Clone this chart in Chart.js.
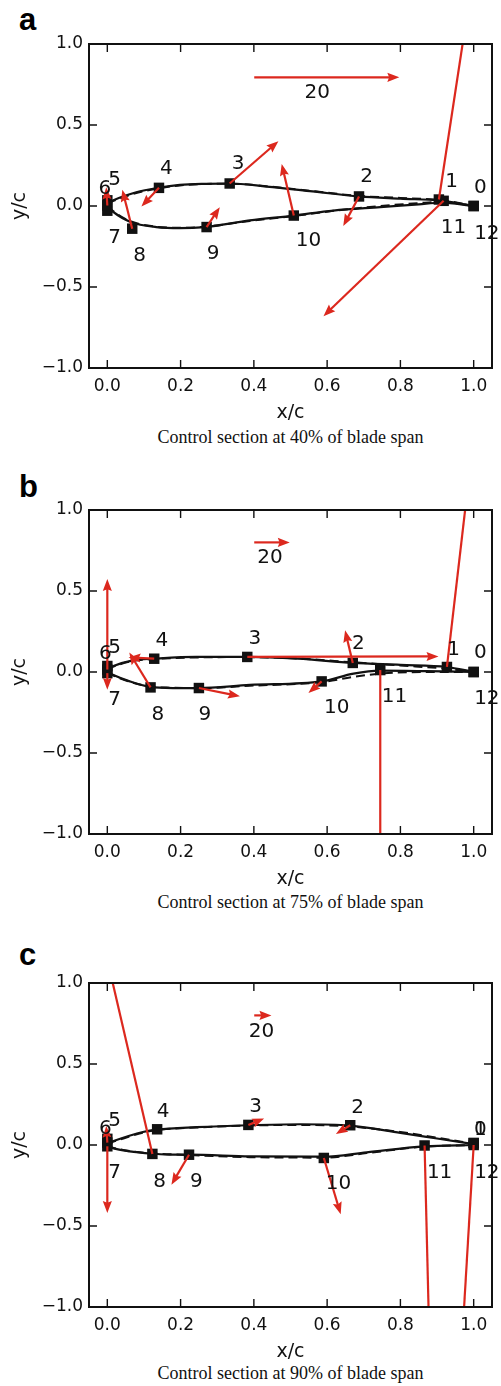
<!DOCTYPE html>
<html>
<head>
<meta charset="utf-8">
<script src="https://cdn.jsdelivr.net/npm/chart.js@4.4.0/dist/chart.umd.min.js"></script>
<style>
  body { margin: 0; background: #fff; }
  #page { position: relative; width: 501px; height: 1386px; overflow: hidden; }
  .panel { position: absolute; left: 0; }
  .letter { position: absolute; left: 19px; font: bold 31px "Liberation Sans", Arial, sans-serif; line-height: 31px; color: #000; }
  .caption { position: absolute; left: 89px; width: 403px; text-align: center; font: 18px "Liberation Serif", "Times New Roman", serif; line-height: 18px; color: #111; white-space: nowrap; }
</style>
</head>
<body>
<div id="page">
  <div class="letter" style="top:4px">a</div>
  <canvas id="chartA" class="panel" width="501" height="424" style="top:0px"></canvas>
  <div class="caption" style="top:428px">Control section at 40% of blade span</div>

  <div class="letter" style="top:471px">b</div>
  <canvas id="chartB" class="panel" width="501" height="424" style="top:466px"></canvas>
  <div class="caption" style="top:893px">Control section at 75% of blade span</div>

  <div class="letter" style="top:939px">c</div>
  <canvas id="chartC" class="panel" width="501" height="424" style="top:939px"></canvas>
  <div class="caption" style="top:1364px">Control section at 90% of blade span</div>
</div>
<script>
// === Axes ===
const xTicks = [0, 0.2, 0.4, 0.6, 0.8, 1.0];
const yTicks = [-1, -0.5, 0, 0.5, 1];
const RED = '#dc281e';
const INK = '#111';

// === Panel a: 40% span ===
// sensor index = label number 0..12
const aSensorX = [1.0, 0.905, 0.687, 0.334, 0.141, 0.0, 0.0, 0.0, 0.068, 0.271, 0.509, 0.918, 1.0];
const aSensorY = [0.0, 0.04, 0.059, 0.139, 0.112, 0.035, 0.003, -0.029, -0.14, -0.13, -0.059, 0.032, 0.0];
const aTipX = [null, 0.99, 0.644, 0.467, 0.093, null, -0.003, null, 0.041, 0.307, 0.476, 0.59, null];
const aTipY = [null, 1.3, -0.124, 0.40, -0.003, null, 0.115, null, 0.10, -0.007, 0.26, -0.68, null];
const aLabelX = [1.018, 0.94, 0.708, 0.357, 0.161, 0.02, -0.007, 0.02, 0.088, 0.289, 0.549, 0.945, 1.036];
const aLabelY = [0.112, 0.147, 0.178, 0.26, 0.229, 0.161, 0.106, -0.196, -0.305, -0.295, -0.213, -0.134, -0.171];
const aUpperX = [0.0, 0.015, 0.079, 0.138, 0.198, 0.27, 0.334, 0.435, 0.56, 0.687, 0.8, 0.91, 1.0];
const aUpperY = [0.015, 0.034, 0.085, 0.112, 0.13, 0.137, 0.139, 0.12, 0.09, 0.059, 0.045, 0.033, 0.0];
const aUpperDashY = [0.015, 0.03, 0.08, 0.108, 0.127, 0.136, 0.138, 0.122, 0.092, 0.062, 0.05, 0.036, 0.002];
const aLowerX = [0.0, 0.015, 0.065, 0.134, 0.198, 0.266, 0.389, 0.509, 0.617, 0.745, 0.85, 0.91, 1.0];
const aLowerY = [0.0, -0.035, -0.1, -0.13, -0.137, -0.13, -0.089, -0.059, -0.028, -0.007, 0.01, 0.02, 0.0];
const aLowerDashY = [0.0, -0.03, -0.096, -0.128, -0.134, -0.128, -0.092, -0.062, -0.03, 0.0, 0.018, 0.026, 0.0];
const aRefFrom = [0.401, 0.794];
const aRefTo = [0.797, 0.794];
const aRefLabel = [0.573, 0.70];

// === Panel b: 75% span ===
const bSensorX = [1.0, 0.927, 0.67, 0.382, 0.128, 0.0, 0.0, 0.0, 0.118, 0.25, 0.585, 0.745, 1.0];
const bSensorY = [0.0, 0.031, 0.056, 0.093, 0.082, 0.037, 0.015, -0.007, -0.095, -0.099, -0.058, 0.012, 0.0];
const bTipX = [null, 0.992, 0.649, 0.904, 0.058, null, 0.0, 0.0, 0.06, 0.362, 0.549, 0.745, null];
const bTipY = [null, 1.3, 0.257, 0.096, 0.09, null, 0.574, -0.109, 0.12, -0.15, -0.13, -1.3, null];
const bLabelX = [1.018, 0.945, 0.685, 0.403, 0.149, 0.02, -0.005, 0.02, 0.138, 0.266, 0.626, 0.784, 1.036];
const bLabelY = [0.117, 0.138, 0.175, 0.204, 0.195, 0.148, 0.113, -0.171, -0.264, -0.264, -0.222, -0.154, -0.167];
const bUpperX = [0.0, 0.015, 0.07, 0.129, 0.243, 0.384, 0.52, 0.67, 0.8, 0.927, 1.0];
const bUpperY = [0.015, 0.035, 0.072, 0.082, 0.093, 0.093, 0.082, 0.056, 0.044, 0.031, 0.0];
const bUpperDashY = [0.015, 0.032, 0.068, 0.08, 0.09, 0.092, 0.083, 0.06, 0.04, 0.02, 0.0];
const bLowerX = [0.0, 0.015, 0.061, 0.116, 0.179, 0.248, 0.389, 0.585, 0.672, 0.745, 0.87, 1.0];
const bLowerY = [0.0, -0.017, -0.058, -0.092, -0.099, -0.099, -0.08, -0.058, -0.01, 0.008, 0.005, 0.0];
const bLowerDashY = [0.0, -0.02, -0.06, -0.09, -0.097, -0.1, -0.085, -0.062, -0.03, -0.01, 0.0, 0.0];
const bRefFrom = [0.401, 0.80];
const bRefTo = [0.498, 0.80];
const bRefLabel = [0.444, 0.707];

// === Panel c: 90% span ===
const cSensorX = [1.0, 1.0, 0.663, 0.385, 0.136, 0.0, 0.0, 0.0, 0.123, 0.223, 0.591, 0.866, 1.0];
const cSensorY = [0.012, 0.012, 0.122, 0.124, 0.097, 0.038, 0.015, -0.008, -0.055, -0.06, -0.08, -0.003, 0.0];
const cTipX = [null, null, 0.624, 0.428, null, null, -0.003, 0.0, -0.016, 0.175, 0.637, 0.880, 0.966];
const cTipY = [null, null, 0.068, 0.163, null, null, 0.118, -0.42, 1.3, -0.245, -0.427, -1.3, -1.3];
const cLabelX = [1.018, 1.018, 0.683, 0.405, 0.152, 0.02, -0.005, 0.02, 0.143, 0.243, 0.631, 0.907, 1.036];
const cLabelY = [0.091, 0.091, 0.229, 0.235, 0.204, 0.147, 0.101, -0.173, -0.225, -0.225, -0.241, -0.169, -0.169];
const cUpperX = [0.0, 0.015, 0.097, 0.136, 0.243, 0.384, 0.526, 0.663, 0.8, 0.9, 1.0];
const cUpperY = [0.01, 0.023, 0.08, 0.095, 0.11, 0.122, 0.128, 0.12, 0.075, 0.04, 0.005];
const cUpperDashY = [0.01, 0.02, 0.076, 0.093, 0.108, 0.12, 0.124, 0.114, 0.08, 0.045, 0.008];
const cLowerX = [0.0, 0.015, 0.061, 0.123, 0.179, 0.223, 0.389, 0.591, 0.708, 0.866, 1.0];
const cLowerY = [-0.005, -0.019, -0.039, -0.053, -0.06, -0.06, -0.07, -0.072, -0.045, -0.008, 0.0];
const cLowerDashY = [-0.005, -0.017, -0.037, -0.052, -0.058, -0.062, -0.075, -0.078, -0.05, -0.01, 0.0];
const cRefFrom = [0.401, 0.80];
const cRefTo = [0.448, 0.80];
const cRefLabel = [0.421, 0.70];

const refText = '20';

const panels = {
  chartA: { sensorX: aSensorX, sensorY: aSensorY, tipX: aTipX, tipY: aTipY, labelX: aLabelX, labelY: aLabelY,
            upperX: aUpperX, upperY: aUpperY, upperDashY: aUpperDashY, lowerX: aLowerX, lowerY: aLowerY, lowerDashY: aLowerDashY,
            refFrom: aRefFrom, refTo: aRefTo, refLabel: aRefLabel },
  chartB: { sensorX: bSensorX, sensorY: bSensorY, tipX: bTipX, tipY: bTipY, labelX: bLabelX, labelY: bLabelY,
            upperX: bUpperX, upperY: bUpperY, upperDashY: bUpperDashY, lowerX: bLowerX, lowerY: bLowerY, lowerDashY: bLowerDashY,
            refFrom: bRefFrom, refTo: bRefTo, refLabel: bRefLabel },
  chartC: { sensorX: cSensorX, sensorY: cSensorY, tipX: cTipX, tipY: cTipY, labelX: cLabelX, labelY: cLabelY,
            upperX: cUpperX, upperY: cUpperY, upperDashY: cUpperDashY, lowerX: cLowerX, lowerY: cLowerY, lowerDashY: cLowerDashY,
            refFrom: cRefFrom, refTo: cRefTo, refLabel: cRefLabel }
};

// === Helpers ===
function pts(xs, ys) {
  return xs.map((x, i) => ({ x, y: ys[i] }));
}

function fmt(v) {
  return (Math.round(v * 10) / 10).toFixed(1).replace('-', '\u2212');
}

function drawArrow(ctx, x0, y0, x1, y1) {
  const dx = x1 - x0, dy = y1 - y0, len = Math.hypot(dx, dy);
  if (len < 1) return;
  const ux = dx / len, uy = dy / len;
  const hl = Math.min(12, len * 0.7), hw = hl * 0.38;
  const bx = x1 - ux * hl, by = y1 - uy * hl;
  ctx.lineWidth = 2.2;
  ctx.beginPath();
  ctx.moveTo(x0, y0);
  ctx.lineTo(x1 - ux * hl * 0.8, y1 - uy * hl * 0.8);
  ctx.stroke();
  ctx.beginPath();
  ctx.moveTo(x1, y1);
  ctx.lineTo(bx - uy * hw, by + ux * hw);
  ctx.lineTo(x1 - ux * hl * 0.85, y1 - uy * hl * 0.85);
  ctx.lineTo(bx + uy * hw, by - ux * hw);
  ctx.closePath();
  ctx.fill();
}

// frame with inward ticks on all four sides
const framePlugin = {
  id: 'frame',
  afterDatasetsDraw(chart) {
    const { ctx, chartArea: a, scales: { x, y } } = chart;
    const tl = 8;
    ctx.save();
    ctx.strokeStyle = INK;
    ctx.lineWidth = 1.4;
    ctx.beginPath();
    xTicks.forEach(v => {
      const px = x.getPixelForValue(v);
      ctx.moveTo(px, a.bottom); ctx.lineTo(px, a.bottom - tl);
      ctx.moveTo(px, a.top); ctx.lineTo(px, a.top + tl);
    });
    yTicks.forEach(v => {
      const py = y.getPixelForValue(v);
      ctx.moveTo(a.left, py); ctx.lineTo(a.left + tl, py);
      ctx.moveTo(a.right, py); ctx.lineTo(a.right - tl, py);
    });
    ctx.stroke();
    ctx.lineWidth = 2;
    ctx.strokeRect(a.left, a.top, a.right - a.left, a.bottom - a.top);
    ctx.restore();
  }
};

// velocity arrows and sensor numbers
const vectorPlugin = {
  id: 'vectors',
  afterDatasetsDraw(chart) {
    const p = panels[chart.canvas.id];
    const { ctx, chartArea: a, scales: { x, y } } = chart;
    ctx.save();
    ctx.beginPath();
    ctx.rect(a.left + 1, a.top + 1, a.right - a.left - 2, a.bottom - a.top - 2);
    ctx.clip();
    ctx.strokeStyle = RED;
    ctx.fillStyle = RED;
    p.tipX.forEach((tx, i) => {
      if (tx === null) return;
      drawArrow(ctx, x.getPixelForValue(p.sensorX[i]), y.getPixelForValue(p.sensorY[i]),
                x.getPixelForValue(tx), y.getPixelForValue(p.tipY[i]));
    });
    drawArrow(ctx, x.getPixelForValue(p.refFrom[0]), y.getPixelForValue(p.refFrom[1]),
              x.getPixelForValue(p.refTo[0]), y.getPixelForValue(p.refTo[1]));
    ctx.restore();

    ctx.save();
    ctx.font = '20px "DejaVu Sans"';
    ctx.fillStyle = INK;
    ctx.textAlign = 'center';
    ctx.textBaseline = 'middle';
    p.labelX.forEach((lx, i) => {
      ctx.fillText(String(i), x.getPixelForValue(lx), y.getPixelForValue(p.labelY[i]));
    });
    ctx.fillText(refText, x.getPixelForValue(p.refLabel[0]), y.getPixelForValue(p.refLabel[1]));
    ctx.restore();
  }
};

Chart.defaults.font.family = '"DejaVu Sans"';
Chart.defaults.color = INK;

function makePanel(id) {
  const p = panels[id];
  return new Chart(document.getElementById(id), {
    type: 'scatter',
    data: {
      datasets: [
        { data: pts(p.sensorX, p.sensorY), pointStyle: 'rect', pointRadius: 7.4, backgroundColor: INK, borderWidth: 0 },
        { data: pts(p.upperX, p.upperY), showLine: true, pointRadius: 0, borderColor: INK, borderWidth: 2.2, cubicInterpolationMode: 'monotone' },
        { data: pts(p.lowerX, p.lowerY), showLine: true, pointRadius: 0, borderColor: INK, borderWidth: 2.2, cubicInterpolationMode: 'monotone' },
        { data: pts(p.upperX, p.upperDashY), showLine: true, pointRadius: 0, borderColor: INK, borderWidth: 2, borderDash: [9, 5], cubicInterpolationMode: 'monotone' },
        { data: pts(p.lowerX, p.lowerDashY), showLine: true, pointRadius: 0, borderColor: INK, borderWidth: 2, borderDash: [9, 5], cubicInterpolationMode: 'monotone' }
      ]
    },
    options: {
      responsive: false,
      animation: false,
      events: [],
      layout: { padding: { top: 44, right: 9, left: 0, bottom: 0 } },
      plugins: { legend: { display: false }, tooltip: { enabled: false } },
      scales: {
        x: {
          type: 'linear', min: -0.05, max: 1.05,
          grid: { display: false, drawTicks: false },
          border: { display: false },
          afterBuildTicks: s => { s.ticks = xTicks.map(v => ({ value: v })); },
          afterFit: s => { s.height = 56; },
          ticks: { font: { size: 17 }, padding: 8, maxRotation: 0, autoSkip: false, callback: v => fmt(v) },
          title: { display: true, text: 'x/c', font: { size: 19 }, padding: 0 }
        },
        y: {
          type: 'linear', min: -1, max: 1,
          grid: { display: false, drawTicks: false },
          border: { display: false },
          afterBuildTicks: s => { s.ticks = yTicks.map(v => ({ value: v })); },
          afterFit: s => { s.width = 89; },
          ticks: { font: { size: 17 }, padding: 6, autoSkip: false, callback: v => fmt(v) },
          title: { display: true, text: 'y/c', font: { size: 19 }, padding: { top: 9, bottom: 0 } }
        }
      }
    },
    plugins: [framePlugin, vectorPlugin]
  });
}

// === Init ===
makePanel('chartA');
makePanel('chartB');
makePanel('chartC');
</script>
</body>
</html>
